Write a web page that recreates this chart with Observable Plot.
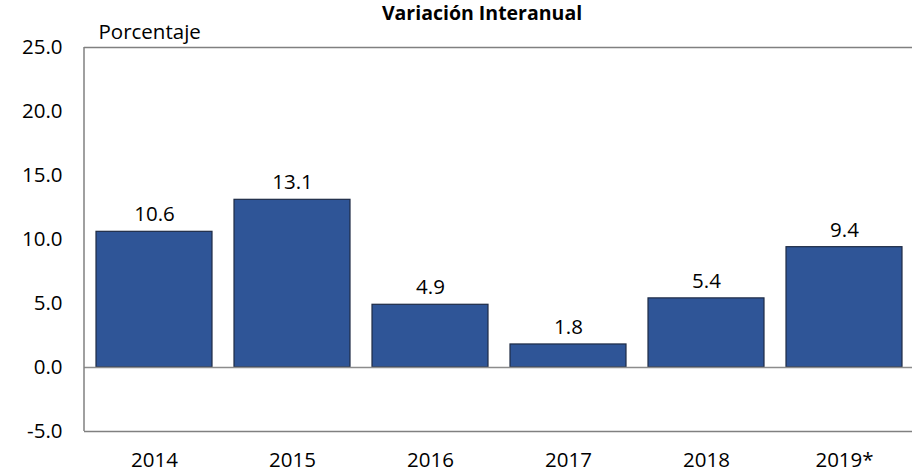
<!DOCTYPE html>
<html>
<head>
<meta charset="utf-8">
<script src="https://cdn.jsdelivr.net/npm/d3@7"></script>
<script src="https://cdn.jsdelivr.net/npm/@observablehq/plot@0.6"></script>
<style>
  html, body { margin: 0; padding: 0; background: #fff; overflow: hidden; }
  #wrap { position: relative; width: 912px; height: 472px; font-family: "Open Sans", sans-serif; }
  #title { position: absolute; z-index: 2; top: 0px; left: 482px; transform: translateX(-50%); font-weight: bold; font-size: 19.5px; line-height: 26px; color: #000; white-space: nowrap; }
  #chart { position: absolute; z-index: 1; top: 16px; left: 0; }
</style>
</head>
<body>
<div id="wrap">
  <div id="title">Variación Interanual</div>
  <div id="chart"></div>
</div>
<script>
const years = ["2014", "2015", "2016", "2017", "2018", "2019*"];
const values = [10.6, 13.1, 4.9, 1.8, 5.4, 9.4];
const yTicks = [-5, 0, 5, 10, 15, 20, 25];
const yLabel = "Porcentaje";

const data = years.map((year, i) => ({year, value: values[i]}));
const font = "\"Open Sans\", sans-serif";

const leftBorder = (index, scales, values, dim) => {
  const g = d3.create("svg:line")
    .attr("x1", dim.marginLeft).attr("x2", dim.marginLeft)
    .attr("y1", dim.marginTop).attr("y2", dim.height - dim.marginBottom)
    .attr("stroke", "#808080").attr("stroke-width", 1.5);
  return g.node();
};

const plot = Plot.plot({
  width: 912,
  height: 456,
  marginLeft: 84,
  marginRight: -2,
  marginTop: 31,
  marginBottom: 41,
  style: {fontFamily: font, fontSize: "20.5px", color: "#000", background: "transparent"},
  x: {domain: years, paddingInner: 0.16, paddingOuter: 0.08, label: null, tickSize: 0, tickPadding: 21},
  y: {domain: [-5, 25], ticks: yTicks, label: null, tickSize: 0, tickPadding: 22, tickFormat: d => d.toFixed(1)},
  marks: [
    Plot.barY(data, {x: "year", y: "value", fill: "#2F5597", stroke: "#1E2B45", strokeWidth: 1.2}),
    Plot.ruleY([0], {stroke: "#8c8c8c", strokeWidth: 1.5}),
    Plot.ruleY([-5, 25], {stroke: "#808080", strokeWidth: 1.5}),
    leftBorder,
    Plot.text(data, {x: "year", y: "value", text: d => d.value.toFixed(1), dy: -17, fontSize: 20.5, fill: "#000"}),
    Plot.text([yLabel], {frameAnchor: "top-left", lineAnchor: "middle", dx: 14, dy: -15, fontSize: 20.5, fill: "#000", textAnchor: "start"})
  ]
});
document.getElementById("chart").appendChild(plot);
</script>
</body>
</html>
